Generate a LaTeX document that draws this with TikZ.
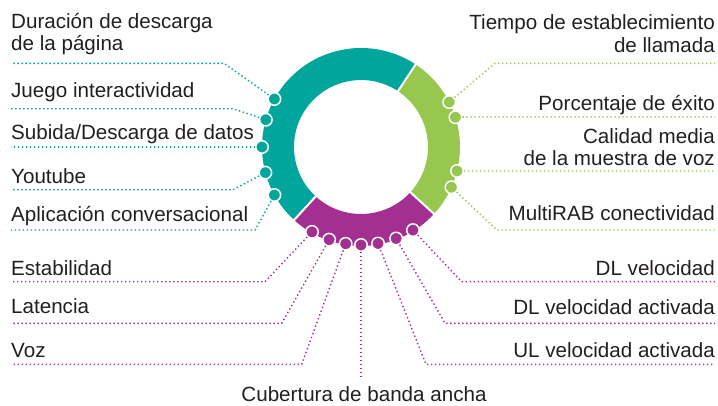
\documentclass[tikz,border=0pt]{standalone}
\usepackage{fontspec}
\setmainfont{Liberation Sans}
\usetikzlibrary{calc}

\definecolor{ringteal}{RGB}{0,166,156}
\definecolor{ringgreen}{RGB}{151,199,78}
\definecolor{ringpurple}{RGB}{163,48,145}
\definecolor{labelgray}{RGB}{35,31,32}

\tikzset{
  lbl/.style={font=\fontsize{20.6}{22.5}\selectfont, text=labelgray, inner sep=0pt},
  dotline/.style={#1, line width=1.4pt, dash pattern=on 1.4pt off 2.6pt},
  ringdot/.style={circle, fill=#1, draw=white, line width=1.5pt, minimum size=12.5pt, inner sep=0pt},
}

\begin{document}
\begin{tikzpicture}[x=1pt,y=-1pt]

  \useasboundingbox (0,0) rectangle (718,405);
  \coordinate (c) at (361,147);

% Ring
  \draw[line width=32pt, ringteal]   (c) ++(-56.5:83)  arc[start angle=-56.5, end angle=-227.5, radius=83];
  \draw[line width=32pt, ringgreen]  (c) ++(42.5:83)   arc[start angle=42.5, end angle=-56.5, radius=83];
  \draw[line width=32pt, ringpurple] (c) ++(-227.5:83) arc[start angle=-227.5, end angle=-317.5, radius=83];
  \foreach \a in {56.5,227.5,-42.5}
    \draw[white, line width=2pt] ($(c)+(-\a:66)$) -- ($(c)+(-\a:100)$);

% Dots and leaders
  \foreach \i/\a/\bx/\ly/\ex in {1/151/224/63.3/11, 2/164/233/108.7/11, 3/180/250/147/11, 4/195/233/189.7/11, 5/209/255/230/11}{
    \node[ringdot=ringteal] (t\i) at ($(c)+(-\a:99)$) {};
    \coordinate (tb\i) at (\bx,\ly);
    \coordinate (te\i) at (\ex,\ly);
    \draw[dotline=ringteal] (t\i) -- (tb\i) -- (te\i);
  }

  \foreach \i/\a/\bx/\ly/\ex in {1/27/495/63.3/715, 2/17.5/470/117/715, 3/-14/470/171/715, 4/-24/497/230/715}{
    \node[ringdot=ringgreen] (g\i) at ($(c)+(-\a:99)$) {};
    \coordinate (gb\i) at (\bx,\ly);
    \coordinate (ge\i) at (\ex,\ly);
    \draw[dotline=ringgreen] (g\i) -- (gb\i) -- (ge\i);
  }

  \foreach \i/\a/\bx/\ly/\ex in {1/-120/265/281.7/11, 2/-109/281.7/323.3/11, 3/-99/301.7/364.3/11, 4/-90/361/379/361, 5/-80/426/364.3/715, 6/-69/445/323.3/715, 7/-58/461.7/281.7/715}{
    \node[ringdot=ringpurple] (p\i) at ($(c)+(-\a:98)$) {};
    \coordinate (pb\i) at (\bx,\ly);
    \coordinate (pe\i) at (\ex,\ly);
    \draw[dotline=ringpurple] (p\i) -- (pb\i) -- (pe\i);
  }

% Labels
  \node[lbl, anchor=base west, align=left] (dur) at (11,50.5) {Duración de descarga\\de la página};
  \node[lbl, anchor=base west] (juego)   at (11,97.5)  {Juego interactividad};
  \node[lbl, anchor=base west] (subida)  at (11,139.5) {Subida/Descarga de datos};
  \node[lbl, anchor=base west] (youtube) at (11,183.8) {Youtube};
  \node[lbl, anchor=base west] (aplic)   at (11,221.5) {Aplicación conversacional};
  \node[lbl, anchor=base west] (estab)   at (11,275)   {Estabilidad};
  \node[lbl, anchor=base west] (laten)   at (11,313.5) {Latencia};
  \node[lbl, anchor=base west] (voz)     at (11,357.5) {Voz};

  \node[lbl, anchor=base east, align=right] (tiempo) at (715,52.3) {Tiempo de establecimiento\\de llamada};
  \node[lbl, anchor=base east] (porc)    at (715,110)   {Porcentaje de éxito};
  \node[lbl, anchor=base east, align=right] (calidad) at (715,165.5) {Calidad media\\de la muestra de voz};
  \node[lbl, anchor=base east] (multi)   at (715,220.7) {MultiRAB conectividad};
  \node[lbl, anchor=base east] (dlvel)   at (715,275)   {DL velocidad};
  \node[lbl, anchor=base east] (dlact)   at (715,314.3) {DL velocidad activada};
  \node[lbl, anchor=base east] (ulact)   at (715,357.7) {UL velocidad activada};

  \node[lbl, anchor=base] (cobert) at (364,401.5) {Cubertura de banda ancha};

\end{tikzpicture}
\end{document}
